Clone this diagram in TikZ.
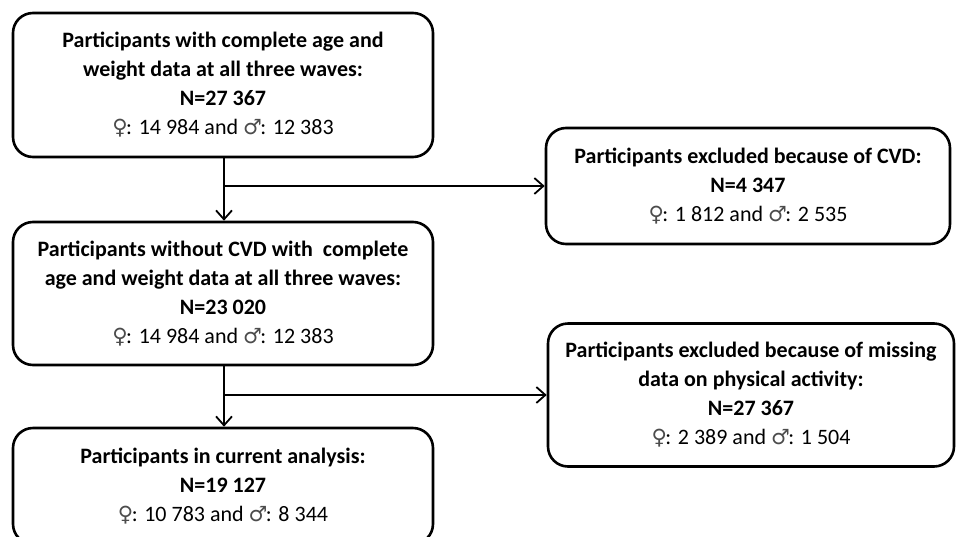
\documentclass[tikz,border=0pt]{standalone}
\usepackage{fontspec}
\setmainfont{Carlito}
\newfontfamily\symfont{DejaVu Sans}
\usetikzlibrary{arrows.meta}
\newcommand{\fem}{{\symfont\fontsize{21}{29}\selectfont\color{black!70}♀}\kern-1.5pt}
\newcommand{\mal}{{\symfont\fontsize{21}{29}\selectfont\color{black!70}♂}\kern-1.5pt}
\tikzset{
  box/.style={draw=black, line width=2.6pt, rounded corners=20pt, align=center,
    inner sep=0pt, font=\fontsize{22}{29}\selectfont},
  arr/.style={draw=black, line width=1.8pt, -{Straight Barb[length=9pt,width=16pt,line width=1.8pt]}},
  ln/.style={draw=black, line width=1.8pt}
}
\begin{document}
\begin{tikzpicture}[x=1pt,y=-1pt]
\useasboundingbox (0,0) rectangle (956,536);
\clip (0,0) rectangle (956,536);
\fill[white] (0,0) rectangle (956,536);
\node[box, minimum width=420pt, minimum height=144pt] (b1) at (223,85)
  {\textbf{Participants with complete age and}\\ \textbf{weight data at all three waves:}\\ \textbf{N=27 367}\\ \fem: 14 984 and \mal: 12 383};
\node[box, minimum width=420pt, minimum height=143pt] (b2) at (223,293.5)
  {\textbf{Participants without CVD with\ \ complete}\\ \textbf{age and weight data at all three waves:}\\ \textbf{N=23 020}\\ \fem: 14 984 and \mal: 12 383};
\node[box, minimum width=420pt, minimum height=116pt] (b3) at (223,486)
  {\textbf{Participants in current analysis:}\\ \textbf{N=19 127}\\ \fem: 10 783 and \mal: 8 344};
\node[box, minimum width=404pt, minimum height=116pt] (b4) at (748,186)
  {\textbf{Participants excluded because of CVD:}\\ \textbf{N=4 347}\\ \fem: 1 812 and \mal: 2 535};
\node[box, minimum width=406pt, minimum height=143pt] (b5) at (751,395)
  {\textbf{Participants excluded because of missing}\\ \textbf{data on physical activity:}\\ \textbf{N=27 367}\\ \fem: 2 389 and \mal: 1 504};
\coordinate (j1) at (224,186);
\coordinate (j2) at (224,395);
\draw[arr] (b1.south -| j1) -- (b2.north -| j1);
\draw[arr] (j1) -- (j1 -| b4.west);
\draw[arr] (b2.south -| j2) -- (b3.north -| j2);
\draw[arr] (j2) -- (j2 -| b5.west);
\end{tikzpicture}
\end{document}
